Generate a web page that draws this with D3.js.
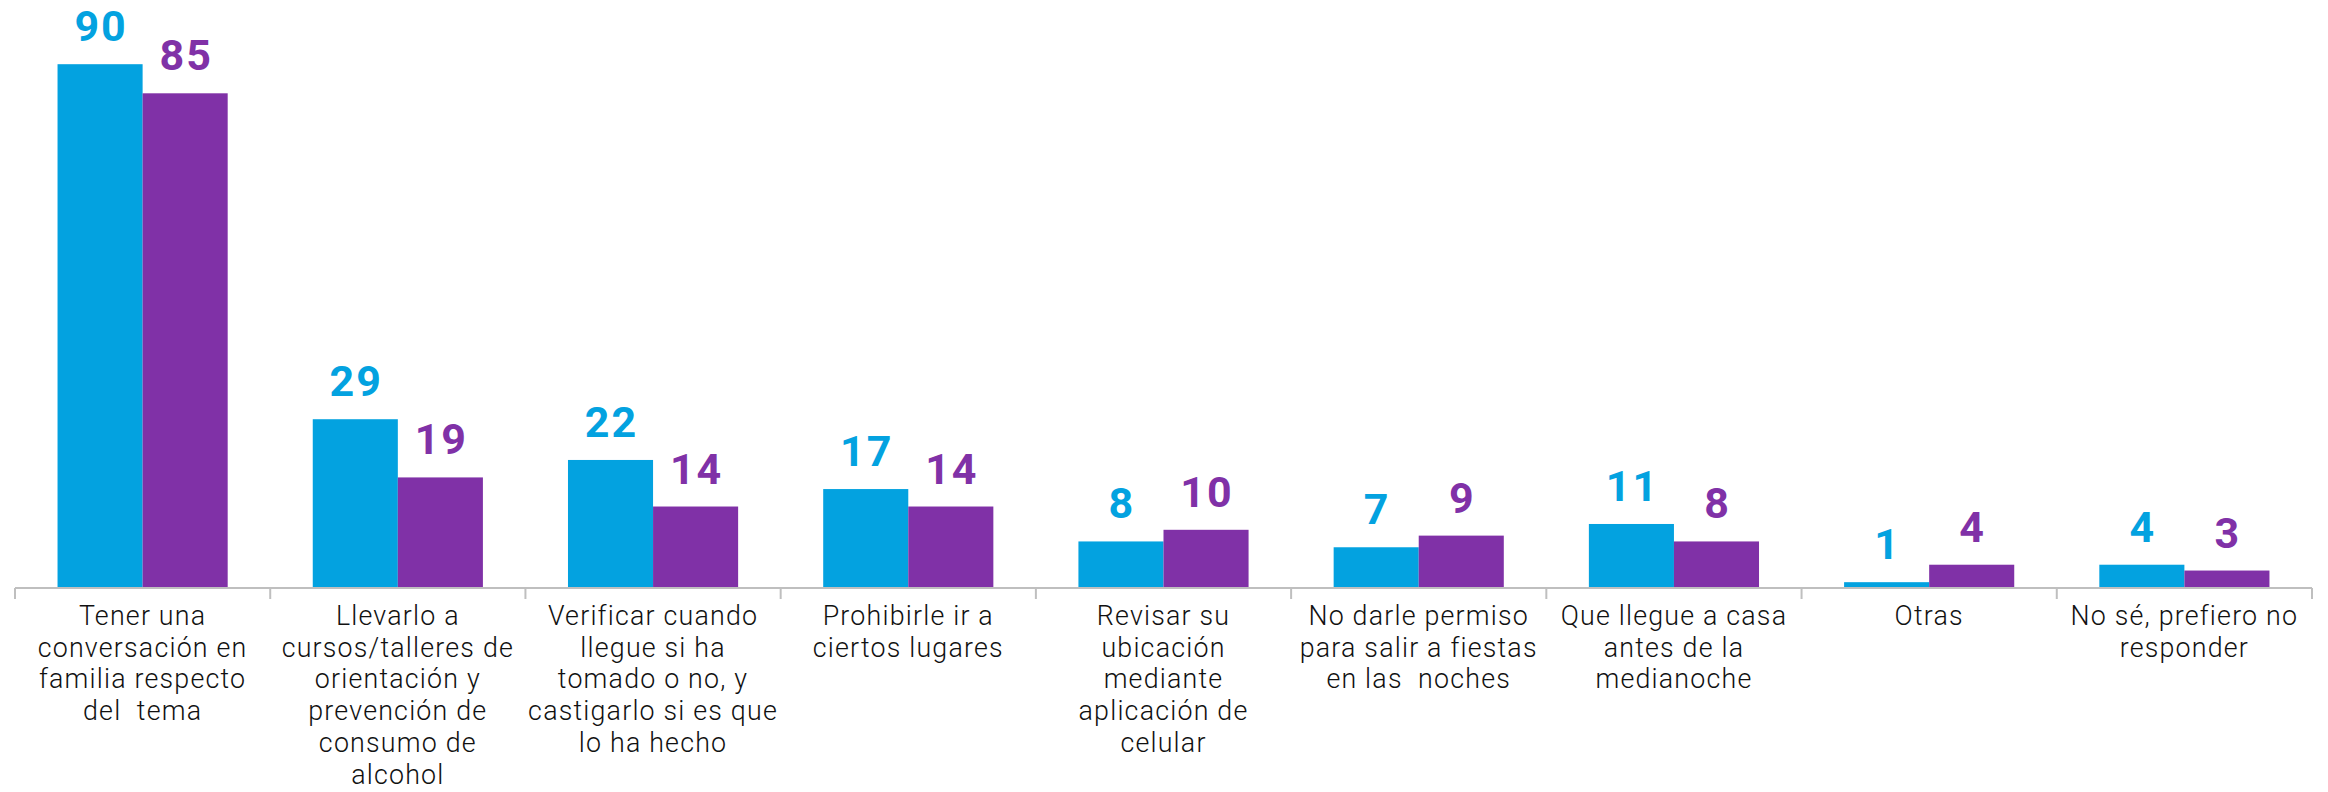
<!DOCTYPE html>
<html>
<head>
<meta charset="utf-8">
<script src="https://cdn.jsdelivr.net/npm/d3@7"></script>
<style>
  html, body { margin: 0; padding: 0; background: #ffffff; }
  svg { display: block; }
</style>
</head>
<body>
<svg id="chart" width="2328" height="792"></svg>
<script>
const categories = [
  "Tener una conversación en familia respecto del tema",
  "Llevarlo a cursos/talleres de orientación y prevención de consumo de alcohol",
  "Verificar cuando llegue si ha tomado o no, y castigarlo si es que lo ha hecho",
  "Prohibirle ir a ciertos lugares",
  "Revisar su ubicación mediante aplicación de celular",
  "No darle permiso para salir a fiestas en las noches",
  "Que llegue a casa antes de la medianoche",
  "Otras",
  "No sé, prefiero no responder"
];
const categoryLines = [
  ["Tener una", "conversación en", "familia respecto", "del  tema"],
  ["Llevarlo a", "cursos/talleres de", "orientación y", "prevención de", "consumo de", "alcohol"],
  ["Verificar cuando", "llegue si ha", "tomado o no, y", "castigarlo si es que", "lo ha hecho"],
  ["Prohibirle ir a", "ciertos lugares"],
  ["Revisar su", "ubicación", "mediante", "aplicación de", "celular"],
  ["No darle permiso", "para salir a fiestas", "en las  noches"],
  ["Que llegue a casa", "antes de la", "medianoche"],
  ["Otras"],
  ["No sé, prefiero no", "responder"]
];
const seriesNames = ["Serie 1", "Serie 2"];
const seriesA = [90, 29, 22, 17, 8, 7, 11, 1, 4];
const seriesB = [85, 19, 14, 14, 10, 9, 8, 4, 3];
const colors = ["#03A2E0", "#8031A7"];

const svg = d3.select("#chart");
const mLeft = 15, mRight = 2312, mTop = 6, mBottom = 588;

const x0 = d3.scaleBand().domain(categories).range([mLeft, mRight])
  .paddingInner(1/3).paddingOuter(1/6);
const x1 = d3.scaleBand().domain(seriesNames).range([0, x0.bandwidth()]);
const y = d3.scaleLinear().domain([0, 100]).range([mBottom, mTop]);

const data = categories.map((c, i) => ({ cat: c, vals: [seriesA[i], seriesB[i]] }));

const groups = svg.append("g").selectAll("g").data(data).join("g")
  .attr("transform", d => `translate(${x0(d.cat)},0)`);

groups.selectAll("rect").data(d => d.vals.map((v, j) => ({ v, j })))
  .join("rect")
  .attr("x", d => x1(seriesNames[d.j]))
  .attr("y", d => y(d.v))
  .attr("width", x1.bandwidth())
  .attr("height", d => y(0) - y(d.v))
  .attr("fill", d => colors[d.j]);

groups.selectAll("text.val").data(d => d.vals.map((v, j) => ({ v, j })))
  .join("text")
  .attr("class", "val")
  .attr("x", d => x1(seriesNames[d.j]) + x1.bandwidth() / 2 + 1)
  .attr("y", d => y(d.v) - 23)
  .attr("text-anchor", "middle")
  .attr("font-family", "Roboto, 'Open Sans', sans-serif")
  .attr("font-weight", 700)
  .attr("font-size", 43)
  .attr("letter-spacing", 2)
  .attr("fill", d => colors[d.j])
  .text(d => d.v);

// Category axis
const tickPos = d3.range(categories.length + 1).map(i => mLeft + i * (mRight - mLeft) / categories.length);
const axis = svg.append("g");
axis.append("line")
  .attr("x1", mLeft).attr("x2", mRight)
  .attr("y1", mBottom).attr("y2", mBottom)
  .attr("stroke", "#BFBFBF").attr("stroke-width", 2);
axis.selectAll("line.tick").data(tickPos).join("line")
  .attr("class", "tick")
  .attr("x1", d => d).attr("x2", d => d)
  .attr("y1", mBottom).attr("y2", mBottom + 11)
  .attr("stroke", "#BFBFBF").attr("stroke-width", 2);

const labels = axis.selectAll("text.cat").data(categories).join("text")
  .attr("class", "cat")
  .attr("text-anchor", "middle")
  .attr("font-family", "Roboto, 'Open Sans', sans-serif")
  .attr("font-weight", 300)
  .attr("font-size", 26.8)
  .attr("letter-spacing", 1.2)
  .attr("fill", "#111111")
  .attr("transform", d => `translate(${x0(d) + x0.bandwidth() / 2},0)`);
labels.each(function(d, i) {
  d3.select(this).selectAll("tspan").data(categoryLines[i]).join("tspan")
    .attr("x", 0)
    .attr("y", (t, k) => 625 + k * 31.7)
    .attr("xml:space", "preserve")
    .text(t => t);
});
</script>
</body>
</html>
